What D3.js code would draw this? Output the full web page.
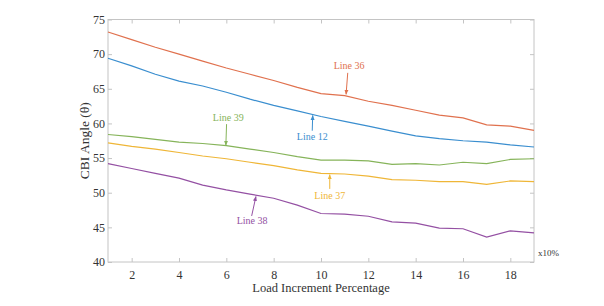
<!DOCTYPE html>
<html>
<head>
<meta charset="utf-8">
<script src="https://cdn.jsdelivr.net/npm/d3@7"></script>
<style>
  body { margin: 0; background: #fff; }
  svg text { font-family: "Liberation Serif", "Times New Roman", serif; }
</style>
</head>
<body>
<svg id="chart"></svg>
<script>
// load steps (x10%)
const steps = d3.range(1, 20);

const line36 = [73.2, 72.1, 71.0, 70.0, 69.0, 68.0, 67.1, 66.2, 65.2, 64.3, 64.0, 63.2, 62.6, 61.9, 61.2, 60.8, 59.8, 59.6, 59.0];
const line12 = [69.4, 68.3, 67.1, 66.1, 65.4, 64.5, 63.5, 62.6, 61.8, 61.0, 60.3, 59.6, 58.9, 58.2, 57.8, 57.5, 57.3, 56.9, 56.6];
const line39 = [58.4, 58.1, 57.7, 57.3, 57.1, 56.8, 56.3, 55.8, 55.2, 54.7, 54.7, 54.6, 54.1, 54.2, 54.0, 54.4, 54.2, 54.8, 54.9];
const line37 = [57.2, 56.7, 56.3, 55.8, 55.3, 54.9, 54.4, 53.9, 53.3, 52.8, 52.7, 52.4, 51.9, 51.8, 51.6, 51.6, 51.2, 51.7, 51.6];
const line38 = [54.2, 53.5, 52.8, 52.1, 51.1, 50.4, 49.8, 49.2, 48.2, 47.0, 46.9, 46.6, 45.8, 45.6, 44.9, 44.8, 43.6, 44.5, 44.2];

const xTicks = [2, 4, 6, 8, 10, 12, 14, 16, 18];
const yTicks = [40, 45, 50, 55, 60, 65, 70, 75];

// name, values, colour, label centre (step, value), arrow start and tip (step, value)
const series = [
  { name: "Line 36", values: line36, color: "#e0714e", label: [11.19, 68.15], from: [11.13, 67.3], to: [11.06, 64.2] },
  { name: "Line 12", values: line12, color: "#3a8ecf", label: [9.63, 58.0], from: [9.63, 58.95], to: [9.65, 61.15] },
  { name: "Line 39", values: line39, color: "#86b45a", label: [6.08, 60.7], from: [6.01, 59.9], to: [5.98, 56.85] },
  { name: "Line 37", values: line37, color: "#efb637", label: [10.37, 49.45], from: [10.37, 50.55], to: [10.37, 52.6] },
  { name: "Line 38", values: line38, color: "#9450a3", label: [7.09, 45.85], from: [7.07, 46.65], to: [7.25, 49.45] }
];

const width = 604, height = 306;
const margin = { top: 19.5, right: 70, bottom: 44, left: 108 };

const svg = d3.select("#chart").attr("width", width).attr("height", height);

const x = d3.scaleLinear().domain([1, 19]).range([margin.left, width - margin.right]);
const y = d3.scaleLinear().domain([40, 75]).range([height - margin.bottom, margin.top]);

const axisColor = "#c4c4c4";
const textColor = "#333";

// box + ticks
const g = svg.append("g");
g.append("rect")
  .attr("x", x(1)).attr("y", y(75))
  .attr("width", x(19) - x(1)).attr("height", y(40) - y(75))
  .attr("fill", "none").attr("stroke", axisColor).attr("stroke-width", 1);

function styleAxis(sel) {
  sel.select(".domain").remove();
  sel.selectAll(".tick line").attr("stroke", axisColor);
  sel.selectAll(".tick text").attr("fill", textColor).attr("font-size", 12);
}

g.append("g").attr("transform", `translate(0,${y(40)})`)
  .call(d3.axisBottom(x).tickValues(xTicks).tickSizeInner(-4).tickPadding(8))
  .call(styleAxis);
g.append("g").attr("transform", `translate(0,${y(75)})`)
  .call(d3.axisTop(x).tickValues(xTicks).tickSizeInner(-4).tickFormat(""))
  .call(styleAxis);
g.append("g").attr("transform", `translate(${x(1)},0)`)
  .call(d3.axisLeft(y).tickValues(yTicks).tickSizeInner(-4).tickPadding(3))
  .call(styleAxis);
g.append("g").attr("transform", `translate(${x(19)},0)`)
  .call(d3.axisRight(y).tickValues(yTicks).tickSizeInner(-4).tickFormat(""))
  .call(styleAxis);

// lines
const line = d3.line().x((d, i) => x(steps[i])).y(d => y(d));
svg.append("g").selectAll("path")
  .data(series)
  .join("path")
    .attr("d", d => line(d.values))
    .attr("fill", "none")
    .attr("stroke", d => d.color)
    .attr("stroke-width", 1.2);

// annotation arrows
const defs = svg.append("defs");
series.forEach((s, i) => {
  defs.append("marker")
    .attr("id", "arrow" + i)
    .attr("viewBox", "0 0 10 10")
    .attr("refX", 9).attr("refY", 5)
    .attr("markerWidth", 5).attr("markerHeight", 6)
    .attr("orient", "auto")
    .append("path").attr("d", "M0,1 L10,5 L0,9 Z").attr("fill", s.color);
});

const ann = svg.append("g");
ann.selectAll("line")
  .data(series)
  .join("line")
    .attr("x1", d => x(d.from[0])).attr("y1", d => y(d.from[1]))
    .attr("x2", d => x(d.to[0])).attr("y2", d => y(d.to[1]))
    .attr("stroke", d => d.color).attr("stroke-width", 1)
    .attr("marker-end", (d, i) => `url(#arrow${i})`);
ann.selectAll("text")
  .data(series)
  .join("text")
    .attr("x", d => x(d.label[0])).attr("y", d => y(d.label[1]))
    .attr("text-anchor", "middle")
    .attr("dominant-baseline", "middle")
    .attr("font-size", 10)
    .attr("fill", d => d.color)
    .text(d => d.name);

// axis titles
svg.append("text")
  .attr("x", (x(1) + x(19)) / 2).attr("y", 292)
  .attr("text-anchor", "middle")
  .attr("font-size", 12.5).attr("fill", textColor)
  .text("Load Increment Percentage");

svg.append("text")
  .attr("transform", `translate(89,${(y(40) + y(75)) / 2}) rotate(-90)`)
  .attr("text-anchor", "middle")
  .attr("font-size", 13.5).attr("fill", textColor)
  .text("CBI Angle (θ)");

svg.append("text")
  .attr("x", x(19) + 4).attr("y", y(40) - 6)
  .attr("font-size", 9).attr("fill", textColor)
  .text("x10%");
</script>
</body>
</html>
